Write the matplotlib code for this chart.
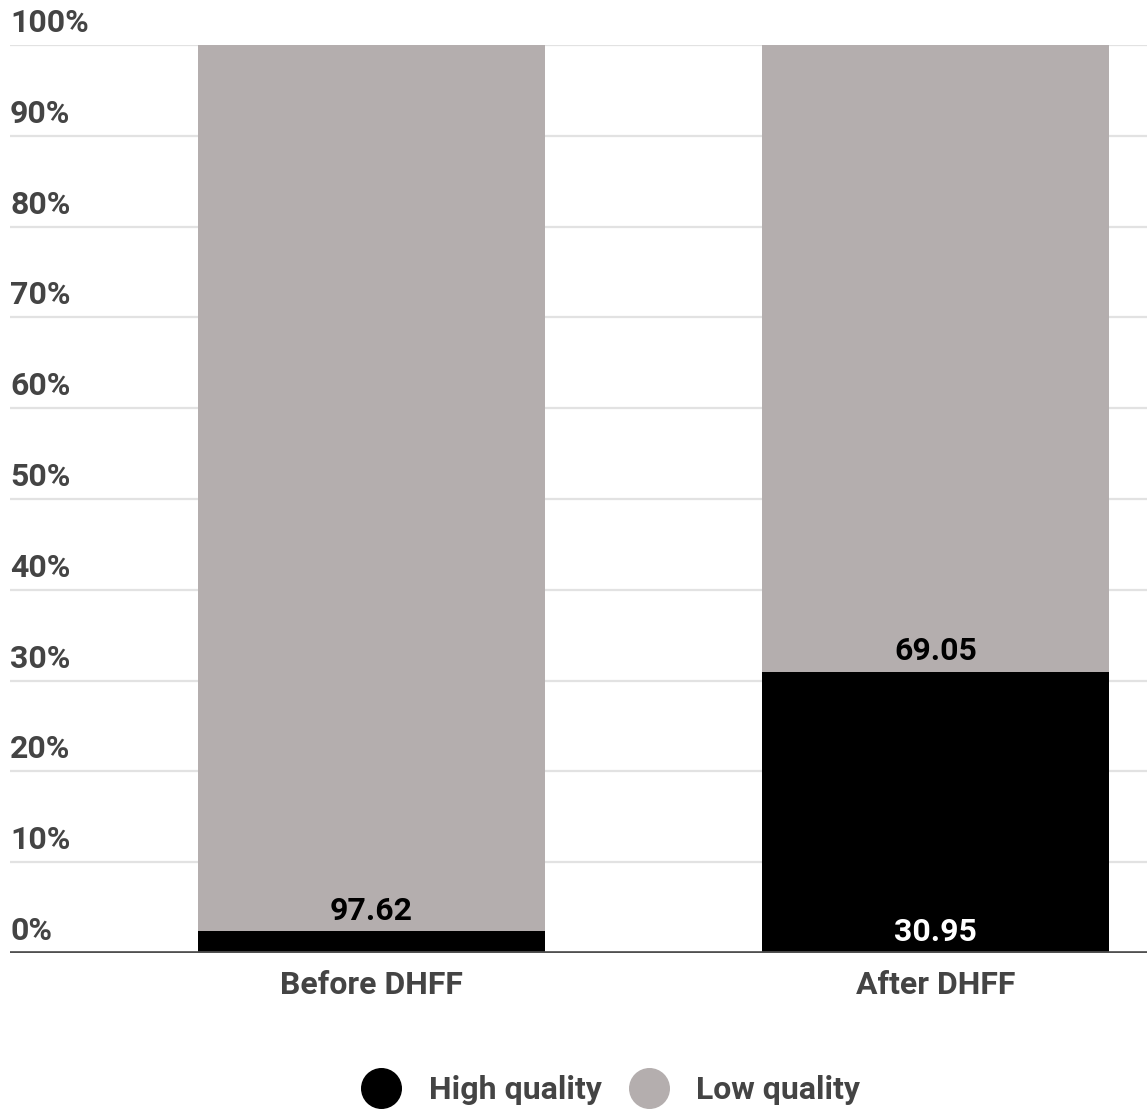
import numpy as np
import matplotlib.pyplot as plt
from matplotlib.lines import Line2D

plt.rcParams['font.family'] = ['Roboto', 'DejaVu Sans']

categories = ["Before DHFF", "After DHFF"]
high_quality = [2.38, 30.95]
low_quality = [97.62, 69.05]
high_labels = ["", "30.95"]
low_labels = ["97.62", "69.05"]

HIGH_COLOR = "#000000"
LOW_COLOR = "#b4aeae"
TEXT_COLOR = "#444444"
FS = 23

fig = plt.figure(figsize=(11.47, 11.10), dpi=100)
ax = fig.add_axes([10 / 1147, 157 / 1110, 1137 / 1147, 908 / 1110])

x = np.arange(len(categories))
width = 0.615
hi = np.array(high_quality)
lo = np.array(low_quality)

ax.bar(x, hi, width, color=HIGH_COLOR, zorder=2)
ax.bar(x, lo, width, bottom=hi, color=LOW_COLOR, zorder=2)

# value labels sit just above the base of each segment
for i in range(len(x)):
    if high_labels[i]:
        ax.annotate(high_labels[i], (x[i], 0), xytext=(0, 4), textcoords="offset points",
                    ha="center", va="bottom", color="white", fontsize=FS,
                    fontweight="bold", zorder=4)
    ax.annotate(low_labels[i], (x[i], hi[i]), xytext=(0, 4), textcoords="offset points",
                ha="center", va="bottom", color="black", fontsize=FS,
                fontweight="bold", zorder=4)

ax.set_xlim(-0.641, 1.375)
ax.set_ylim(0, 100)

ticks = np.arange(0, 101, 10)
for t in ticks:
    if t > 0:
        ax.axhline(t, color="#e2e2e2", lw=1.6, zorder=1)
    ax.annotate(f"{t}%", (0, t), xycoords=("axes fraction", "data"), xytext=(0, 5),
                textcoords="offset points", ha="left", va="bottom",
                color=TEXT_COLOR, fontsize=FS, fontweight="bold", annotation_clip=False)
ax.axhline(0, color="#505050", lw=3.4, zorder=3)

ax.set_yticks([])
ax.set_xticks(x)
ax.set_xticklabels(categories, color=TEXT_COLOR, fontsize=FS, fontweight="bold")
ax.tick_params(axis="x", length=0, pad=12)
for s in ax.spines.values():
    s.set_visible(False)

handles = [Line2D([], [], ls="", marker="o", ms=28.5, color=HIGH_COLOR),
           Line2D([], [], ls="", marker="o", ms=28.5, color=LOW_COLOR)]
fig.legend(handles, ["High quality", "Low quality"], loc="center",
           bbox_to_anchor=(605 / 1147, 1 - 1090 / 1110), ncol=2, frameon=False,
           prop={"size": FS, "weight": "bold"}, labelcolor=TEXT_COLOR,
           handletextpad=0.5, columnspacing=0.45)

fig.savefig("out.png", dpi=100)
